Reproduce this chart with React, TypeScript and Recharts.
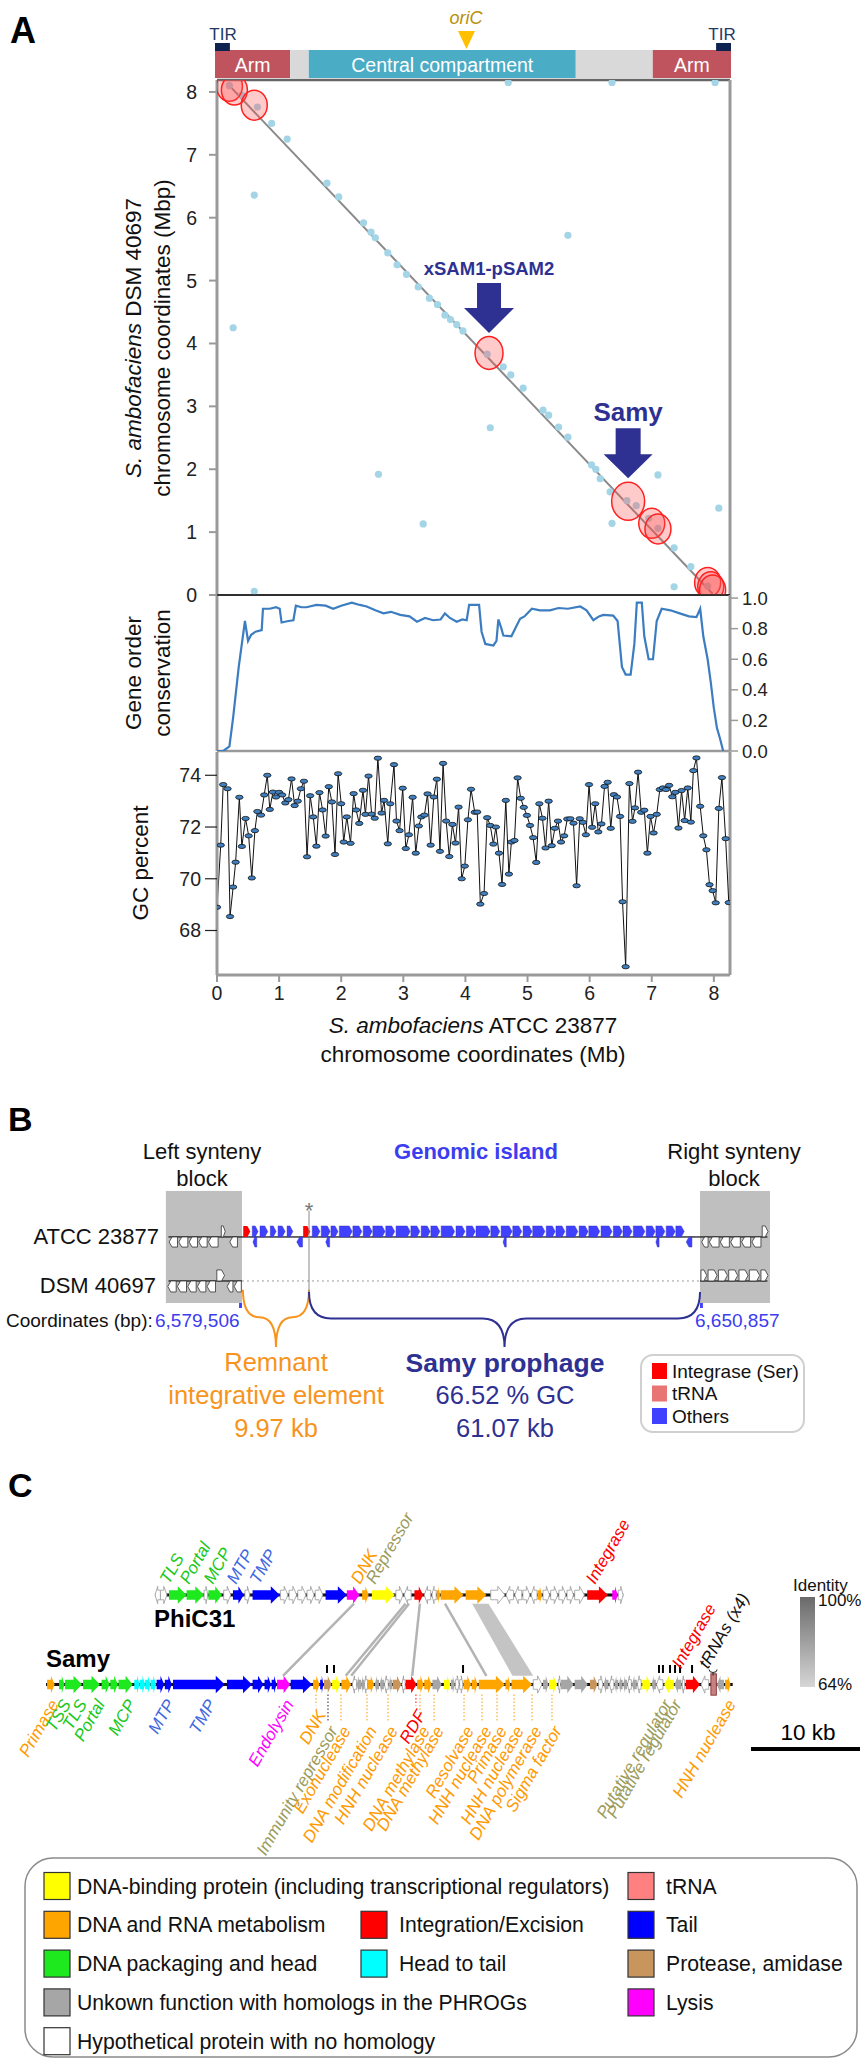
import React from 'react';
import {
  ComposedChart, ScatterChart, LineChart, Line, Scatter, XAxis, YAxis,
  ReferenceArea, ReferenceLine, ReferenceDot,
} from 'recharts';

const FONT = '"Liberation Sans", Arial, Helvetica, sans-serif';
const W = 861;

// ================= Panel A data =================
const mbTicks = [0, 1, 2, 3, 4, 5, 6, 7, 8];
const conservationTicks = [0, 0.2, 0.4, 0.6, 0.8, 1.0];
const gcTicks = [68, 70, 72, 74];

const compartments = [
  { kind: 'arm', start: -0.03, end: 1.18, label: 'Arm' },
  { kind: 'gap', start: 1.18, end: 1.48, label: '' },
  { kind: 'central', start: 1.48, end: 5.78, label: 'Central compartment' },
  { kind: 'gap', start: 5.78, end: 7.02, label: '' },
  { kind: 'arm', start: 7.02, end: 8.28, label: 'Arm' },
];
const tirRegions = [[-0.03, 0.21], [8.04, 8.28]];
const oriCPosition = 4.02;

const syntenyDiagonal = [{ x: 0.16, y: 8.14 }, { x: 7.98, y: 0.02 }];

const syntenyDots = [
  [0.2, 8.1], [0.4, 7.95], [0.65, 7.76], [0.88, 7.5], [1.13, 7.25], [1.77, 6.55], [1.96, 6.33],
  [2.36, 5.92], [2.48, 5.77], [2.55, 5.68], [2.75, 5.44], [2.9, 5.25], [3.05, 5.1],
  [3.24, 4.9], [3.42, 4.72], [3.55, 4.62], [3.67, 4.45], [3.76, 4.38], [3.86, 4.3],
  [3.96, 4.2], [4.35, 3.83], [4.61, 3.63], [4.73, 3.5], [4.93, 3.29], [5.25, 2.94], [5.34, 2.86],
  [5.5, 2.67], [5.65, 2.51], [6.03, 2.07], [6.1, 2.0], [6.17, 1.85], [6.33, 1.64],
  [6.6, 1.5], [6.75, 1.42], [6.95, 1.22], [7.1, 1.06], [7.36, 0.75], [7.63, 0.45], [7.9, 0.14],
];
const offDiagonalDots = [
  [0.6, 6.36], [0.26, 4.25], [5.65, 5.72], [4.4, 2.66], [4.69, 8.15], [6.36, 8.15],
  [8.02, 8.15], [2.6, 1.92], [3.32, 1.13], [0.6, 0.06], [7.1, 1.91], [8.08, 1.38],
  [7.36, 0.13], [6.36, 1.14],
];
const highlightedRegions = [
  { x: 0.2, y: 8.09, kind: 'minor' }, { x: 0.28, y: 8.03, kind: 'minor' },
  { x: 0.6, y: 7.79, kind: 'minor' }, { x: 4.38, y: 3.85, kind: 'mid' },
  { x: 6.62, y: 1.49, kind: 'major' }, { x: 7.0, y: 1.14, kind: 'minor' },
  { x: 7.1, y: 1.05, kind: 'minor' }, { x: 7.9, y: 0.2, kind: 'minor' },
  { x: 7.95, y: 0.13, kind: 'minor' }, { x: 7.98, y: 0.08, kind: 'minor' },
];
const annotations = [
  { x: 4.38, y: 3.85, label: 'xSAM1-pSAM2', kind: 'small' },
  { x: 6.62, y: 1.49, label: 'Samy', kind: 'large' },
];

const geneOrder: [number, number][] = [
  [0.0, 0.0], [0.1, 0.0], [0.2, 0.03], [0.26, 0.22], [0.35, 0.55], [0.45, 0.85], [0.5, 0.72],
  [0.55, 0.76], [0.62, 0.78], [0.72, 0.79], [0.74, 0.93], [0.85, 0.93], [0.95, 0.94],
  [1.01, 0.93], [1.04, 0.84], [1.15, 0.85], [1.23, 0.855], [1.27, 0.95], [1.36, 0.94],
  [1.44, 0.94], [1.6, 0.955], [1.75, 0.95], [1.87, 0.93], [2.0, 0.95], [2.17, 0.97],
  [2.3, 0.955], [2.41, 0.945], [2.55, 0.92], [2.68, 0.9], [2.8, 0.91], [2.95, 0.89],
  [3.1, 0.88], [3.22, 0.845], [3.35, 0.87], [3.48, 0.855], [3.6, 0.86], [3.67, 0.9],
  [3.75, 0.87], [3.86, 0.845], [3.95, 0.86], [4.02, 0.855], [4.06, 0.955], [4.22, 0.955],
  [4.26, 0.78], [4.32, 0.7], [4.45, 0.69], [4.5, 0.72], [4.53, 0.86], [4.58, 0.8],
  [4.61, 0.755], [4.74, 0.75], [4.8, 0.8], [4.88, 0.865], [4.95, 0.88], [5.07, 0.93],
  [5.2, 0.92], [5.36, 0.92], [5.5, 0.935], [5.65, 0.93], [5.85, 0.945], [5.95, 0.92],
  [6.06, 0.855], [6.15, 0.88], [6.22, 0.89], [6.38, 0.885], [6.45, 0.85], [6.52, 0.55],
  [6.58, 0.5], [6.66, 0.5], [6.72, 0.7], [6.76, 0.97], [6.84, 0.97], [6.88, 0.75],
  [6.95, 0.6], [7.02, 0.6], [7.08, 0.85], [7.16, 0.93], [7.3, 0.92], [7.45, 0.9],
  [7.6, 0.88], [7.72, 0.875], [7.78, 0.93], [7.83, 0.75], [7.9, 0.6], [7.95, 0.45],
  [8.0, 0.28], [8.05, 0.15], [8.1, 0.08], [8.15, 0.0],
];

const gcPercent: [number, number][] = [
  [0.0, 68.9], [0.06, 71.3], [0.1, 73.64], [0.17, 73.48], [0.21, 68.54], [0.26, 69.68],
  [0.3, 70.64], [0.36, 73.15], [0.4, 71.25], [0.46, 72.33], [0.51, 71.66], [0.56, 70.03],
  [0.61, 71.86], [0.65, 72.6], [0.71, 72.46], [0.76, 73.24], [0.81, 74.0], [0.85, 72.68],
  [0.9, 73.35], [0.95, 73.16], [1.0, 73.34], [1.05, 73.24], [1.1, 72.93], [1.15, 73.06],
  [1.2, 73.86], [1.25, 72.83], [1.3, 73.0], [1.35, 73.48], [1.4, 73.77], [1.45, 70.85],
  [1.5, 73.21], [1.55, 72.39], [1.6, 71.26], [1.65, 73.33], [1.7, 72.66], [1.75, 71.65],
  [1.8, 73.56], [1.85, 72.97], [1.9, 70.94], [1.95, 74.06], [2.0, 72.9], [2.04, 71.42],
  [2.09, 72.39], [2.15, 71.37], [2.2, 73.29], [2.24, 72.66], [2.29, 72.14], [2.35, 73.42],
  [2.39, 72.49], [2.44, 73.97], [2.49, 72.5], [2.54, 72.34], [2.59, 74.66], [2.65, 72.54],
  [2.69, 73.03], [2.75, 71.35], [2.79, 72.9], [2.85, 74.41], [2.89, 72.23], [2.94, 71.86],
  [2.99, 73.5], [3.04, 71.17], [3.09, 71.7], [3.15, 73.15], [3.2, 70.99], [3.25, 72.04],
  [3.29, 72.39], [3.34, 72.46], [3.39, 73.28], [3.44, 71.3], [3.49, 73.16], [3.54, 73.85],
  [3.59, 71.06], [3.64, 74.46], [3.69, 72.23], [3.74, 70.86], [3.79, 72.1], [3.84, 71.38],
  [3.89, 72.77], [3.94, 70.0], [3.99, 70.49], [4.04, 72.28], [4.09, 73.46], [4.15, 72.57],
  [4.19, 72.58], [4.24, 69.02], [4.3, 69.43], [4.35, 72.36], [4.4, 72.06], [4.45, 71.34],
  [4.49, 72.0], [4.54, 70.99], [4.59, 69.78], [4.65, 73.03], [4.7, 70.18], [4.74, 71.42],
  [4.79, 71.48], [4.84, 73.9], [4.89, 73.11], [4.94, 72.76], [4.99, 72.45], [5.04, 72.06],
  [5.09, 71.59], [5.14, 70.63], [5.19, 72.9], [5.24, 72.34], [5.29, 71.19], [5.34, 73.0],
  [5.39, 71.28], [5.44, 71.95], [5.49, 72.23], [5.54, 71.42], [5.59, 71.66], [5.64, 72.31],
  [5.69, 72.32], [5.74, 72.15], [5.79, 69.73], [5.84, 72.32], [5.89, 72.18], [5.94, 71.7],
  [5.99, 73.64], [6.04, 71.99], [6.09, 72.9], [6.14, 71.81], [6.19, 72.12], [6.24, 73.57],
  [6.29, 73.73], [6.34, 71.95], [6.39, 73.25], [6.44, 73.16], [6.49, 72.41], [6.53, 69.11],
  [6.58, 66.6], [6.64, 73.68], [6.69, 72.22], [6.73, 72.74], [6.78, 74.12], [6.83, 72.57],
  [6.88, 72.65], [6.93, 70.99], [6.98, 72.41], [7.03, 71.77], [7.08, 72.49], [7.13, 73.45],
  [7.18, 73.51], [7.23, 73.45], [7.28, 73.61], [7.33, 73.17], [7.38, 73.34], [7.43, 71.96],
  [7.48, 73.41], [7.53, 72.25], [7.58, 73.51], [7.63, 72.19], [7.67, 74.18], [7.72, 74.67],
  [7.78, 72.8], [7.83, 71.66], [7.88, 71.12], [7.93, 69.77], [7.98, 69.54], [8.03, 69.07],
  [8.08, 72.72], [8.13, 73.91], [8.19, 71.55], [8.24, 69.08],
];

// ================= Panel B data (kb from 6,579,506) =================
const leftSyntenyBlock = [-11.5, 0.3];
const rightSyntenyBlock = [71.35, 82.2];
const remnantElement = [0.45, 10.7];
const samyProphage = [10.7, 71.35];
const insertionMark = 10.7;
const atccGenes: [number, number, number, string][] = [
  [-11.0, -9.7, -1, 'hyp'], [-9.5, -8.1, -1, 'hyp'], [-7.9, -6.6, -1, 'hyp'], [-6.4, -5.1, -1, 'hyp'],
  [-4.9, -3.4, -1, 'hyp'], [-2.9, -2.3, 1, 'hyp'], [-1.6, -0.4, -1, 'hyp'],
  [0.5, 1.6, 1, 'int'], [1.9, 2.8, 1, 'oth'], [2.0, 2.6, -1, 'oth'], [3.1, 4.3, 1, 'oth'],
  [4.7, 5.6, 1, 'oth'], [5.9, 7.0, 1, 'oth'], [7.3, 8.2, 1, 'oth'], [8.8, 9.7, -1, 'oth'],
  [9.8, 10.9, 1, 'int'], [11.2, 12.4, 1, 'oth'], [12.6, 14.0, 1, 'oth'], [13.3, 13.9, -1, 'oth'],
  [14.1, 15.2, 1, 'oth'], [15.4, 17.4, 1, 'oth'], [17.5, 18.9, 1, 'oth'], [19.1, 20.5, 1, 'oth'],
  [20.6, 22.5, 1, 'oth'], [22.6, 24.0, 1, 'oth'], [24.2, 26.4, 1, 'oth'], [26.5, 27.9, 1, 'oth'],
  [28.1, 29.5, 1, 'oth'], [29.6, 31.0, 1, 'oth'], [31.2, 33.3, 1, 'oth'], [33.5, 34.9, 1, 'oth'],
  [35.1, 36.5, 1, 'oth'], [36.6, 38.8, 1, 'oth'], [38.9, 40.3, 1, 'oth'], [40.5, 42.2, 1, 'oth'],
  [40.8, 41.3, -1, 'oth'], [42.3, 43.7, 1, 'oth'], [43.9, 45.3, 1, 'oth'], [45.4, 47.3, 1, 'oth'],
  [47.5, 48.9, 1, 'oth'], [49.0, 50.4, 1, 'oth'], [50.6, 52.4, 1, 'oth'], [52.6, 54.0, 1, 'oth'],
  [54.1, 55.8, 1, 'oth'], [56.0, 57.7, 1, 'oth'], [57.9, 59.3, 1, 'oth'], [59.4, 60.8, 1, 'oth'],
  [61.0, 62.8, 1, 'oth'], [63.0, 64.4, 1, 'oth'], [64.5, 65.0, -1, 'oth'], [64.5, 65.9, 1, 'oth'],
  [66.1, 67.5, 1, 'oth'], [67.6, 68.9, 1, 'oth'], [69.2, 70.1, -1, 'oth'],
  [71.6, 72.6, -1, 'hyp'], [72.8, 74.3, -1, 'hyp'], [74.5, 75.9, -1, 'hyp'], [76.1, 77.6, -1, 'hyp'],
  [77.8, 79.2, -1, 'hyp'], [79.4, 80.8, -1, 'hyp'], [81.0, 81.9, 1, 'hyp'],
];
const dsmGenes: [number, number, number, string][] = [
  [-11.2, -9.9, -1, 'hyp'], [-9.7, -8.3, -1, 'hyp'], [-8.1, -6.8, -1, 'hyp'], [-6.6, -5.3, -1, 'hyp'],
  [-5.1, -3.8, -1, 'hyp'], [-3.6, -2.4, 1, 'hyp'], [-2.0, -1.1, -1, 'hyp'], [-0.9, 0.2, -1, 'hyp'],
  [71.5, 72.4, 1, 'hyp'], [72.6, 74.0, 1, 'hyp'], [74.2, 75.6, 1, 'hyp'], [75.8, 77.2, 1, 'hyp'],
  [77.4, 78.8, 1, 'hyp'], [79.0, 80.6, 1, 'hyp'], [80.8, 81.9, 1, 'hyp'],
];

// ================= Panel C data (kb) =================
const samyTrack = [0, 63.0];
const phiTrack = [10.0, 52.95];
const samyGenes: [number, number, number, string][] = [
  [0.1, 0.8, 1, 'meta'], [1.2, 1.7, 1, 'pack'], [1.75, 3.3, 1, 'pack'], [3.4, 4.95, 1, 'pack'],
  [5.1, 5.85, 1, 'pack'], [5.9, 6.6, 1, 'pack'], [6.65, 7.95, 1, 'pack'],
  [8.1, 8.6, 1, 'h2t'], [8.6, 9.1, 1, 'h2t'], [9.1, 9.6, 1, 'h2t'], [9.6, 10.1, 1, 'h2t'],
  [10.15, 10.85, 1, 'tail'], [10.9, 11.55, 1, 'tail'], [11.65, 16.4, 1, 'tail'],
  [16.6, 18.9, 1, 'tail'], [18.95, 19.95, 1, 'tail'], [20.05, 20.65, 1, 'tail'], [20.7, 21.15, 1, 'tail'],
  [21.2, 22.4, 1, 'lysis'], [22.45, 24.4, 1, 'tail'], [24.5, 25.1, 1, 'meta'], [25.15, 25.45, 1, 'tail'],
  [25.5, 26.2, 1, 'prot'], [26.25, 27.0, 1, 'bind'], [27.1, 28.0, 1, 'meta'],
  [28.1, 28.5, -1, 'hyp'], [28.5, 28.9, -1, 'unk'], [28.9, 29.2, -1, 'unk'], [29.2, 29.5, -1, 'hyp'],
  [29.5, 30.1, 1, 'meta'], [30.15, 30.55, -1, 'unk'], [30.6, 31.0, -1, 'unk'], [31.05, 31.4, -1, 'hyp'],
  [31.45, 31.75, -1, 'unk'], [31.8, 32.6, 1, 'prot'], [32.65, 32.95, -1, 'hyp'], [33.0, 34.0, 1, 'int'],
  [34.05, 34.65, 1, 'meta'], [34.7, 35.4, 1, 'meta'], [35.45, 36.3, 1, 'unk'], [36.5, 37.1, 1, 'bind'],
  [37.15, 37.5, 1, 'unk'], [37.55, 37.9, 1, 'hyp'], [37.95, 38.25, 1, 'hyp'], [38.3, 39.0, 1, 'meta'],
  [39.05, 39.6, 1, 'meta'], [39.7, 42.1, 1, 'meta'], [42.15, 42.6, 1, 'meta'], [42.7, 44.6, 1, 'meta'],
  [44.7, 45.5, 1, 'hyp'], [45.6, 46.1, 1, 'unk'], [46.15, 46.9, 1, 'bind'], [47.0, 47.2, 1, 'hyp'],
  [47.25, 48.4, 1, 'unk'], [48.5, 49.7, 1, 'unk'], [49.9, 50.6, 1, 'prot'], [50.7, 51.1, 1, 'hyp'],
  [51.15, 51.6, -1, 'unk'], [51.7, 52.1, -1, 'hyp'], [52.15, 52.5, -1, 'unk'], [52.55, 52.9, -1, 'unk'],
  [52.95, 53.3, -1, 'unk'], [53.35, 53.7, -1, 'hyp'], [53.75, 54.2, -1, 'unk'], [54.25, 54.6, -1, 'hyp'],
  [54.7, 55.5, 1, 'bind'], [55.55, 55.95, -1, 'unk'], [56.0, 56.6, -1, 'hyp'], [56.7, 57.6, -1, 'bind'],
  [57.65, 58.3, -1, 'unk'], [58.35, 58.6, -1, 'hyp'], [58.7, 60.0, 1, 'int'], [60.1, 60.8, -1, 'hyp'],
  [61.0, 61.5, 0, 'trna'], [61.55, 62.2, -1, 'unk'], [62.3, 62.8, 1, 'meta'],
];
const phiGenes: [number, number, number, string][] = [
  [10.0, 10.5, -1, 'hyp'], [10.5, 11.1, 1, 'hyp'], [11.28, 12.9, 1, 'pack'], [12.9, 14.5, 1, 'pack'],
  [14.5, 14.85, 1, 'hyp'], [14.9, 16.15, 1, 'pack'], [16.3, 16.95, 1, 'hyp'], [17.15, 18.15, 1, 'tail'],
  [18.25, 18.7, 1, 'hyp'], [18.95, 21.45, 1, 'tail'], [21.5, 22.2, 1, 'hyp'], [22.3, 23.0, 1, 'hyp'],
  [23.1, 23.85, 1, 'hyp'], [23.95, 24.6, 1, 'hyp'], [24.7, 25.4, 1, 'hyp'], [25.65, 27.6, 1, 'tail'],
  [27.6, 28.75, 1, 'lysis'], [29.0, 29.6, 1, 'meta'], [29.9, 32.0, 1, 'bind'], [32.1, 32.75, 1, 'hyp'],
  [32.85, 33.5, -1, 'hyp'], [33.8, 34.6, 1, 'int'], [34.7, 35.3, -1, 'hyp'], [35.4, 35.8, -1, 'hyp'],
  [35.85, 36.15, 1, 'meta'], [36.2, 38.3, 1, 'meta'], [38.5, 40.4, 1, 'meta'], [40.8, 42.1, 1, 'hyp'],
  [42.2, 42.9, -1, 'hyp'], [43.0, 43.65, -1, 'hyp'], [43.75, 44.4, 1, 'hyp'], [44.5, 45.05, -1, 'hyp'],
  [45.1, 45.5, 1, 'meta'], [45.6, 46.2, 1, 'hyp'], [46.3, 46.95, 1, 'hyp'], [47.05, 47.7, 1, 'hyp'],
  [47.8, 48.4, 1, 'hyp'], [48.5, 49.4, 1, 'hyp'], [49.65, 51.55, 1, 'int'], [51.95, 52.45, 1, 'lysis'],
  [52.5, 52.95, 1, 'hyp'],
];
const phiLabels = [
  { x: 11.28, label: 'TLS', cat: 'pack' }, { x: 13.12, label: 'Portal', cat: 'pack' },
  { x: 15.32, label: 'MCP', cat: 'pack' }, { x: 17.43, label: 'MTP', cat: 'tail' },
  { x: 19.54, label: 'TMP', cat: 'tail' }, { x: 28.81, label: 'DNK', cat: 'meta' },
  { x: 30.18, label: 'Repressor', cat: 'bind' }, { x: 50.37, label: 'Integrase', cat: 'int' },
];
const samyLabelsAbove = [
  { x: 58.26, label: 'Integrase', cat: 'int' }, { x: 60.73, label: 'tRNAs (x4)', cat: 'trna' },
];
const samyLabelsBelow = [
  { x: 0.28, label: 'Primase', cat: 'meta', tier: 0 }, { x: 1.38, label: 'TSS', cat: 'pack', tier: 0 },
  { x: 2.84, label: 'TLS', cat: 'pack', tier: 0 }, { x: 4.5, label: 'Portal', cat: 'pack', tier: 0 },
  { x: 7.34, label: 'MCP', cat: 'pack', tier: 0 }, { x: 10.92, label: 'MTP', cat: 'tail', tier: 0 },
  { x: 14.68, label: 'TMP', cat: 'tail', tier: 0 }, { x: 21.83, label: 'Endolysin', cat: 'lysis', tier: 0 },
  { x: 24.77, label: 'DNK', cat: 'meta', tier: 1 },
  { x: 25.87, label: 'Immunity repressor', cat: 'bind', tier: 2 },
  { x: 27.06, label: 'Exonuclease', cat: 'meta', tier: 2 },
  { x: 29.45, label: 'DNA modification', cat: 'meta', tier: 2 },
  { x: 31.38, label: 'HNH nuclease', cat: 'meta', tier: 2 },
  { x: 34.31, label: 'DNA methylase', cat: 'meta', tier: 2 },
  { x: 33.94, label: 'RDF', cat: 'int', tier: 1 },
  { x: 35.6, label: 'DNA methylase', cat: 'meta', tier: 2 },
  { x: 38.35, label: 'Resolvase', cat: 'meta', tier: 2 },
  { x: 40.0, label: 'HNH nuclease', cat: 'meta', tier: 2 },
  { x: 41.38, label: 'Primase', cat: 'meta', tier: 2 },
  { x: 42.94, label: 'HNH nuclease', cat: 'meta', tier: 2 },
  { x: 44.59, label: 'DNA polymerase', cat: 'meta', tier: 2 },
  { x: 46.42, label: 'Sigma factor', cat: 'meta', tier: 2 },
  { x: 56.51, label: 'Putative regulator', cat: 'bind', tier: 0 },
  { x: 57.43, label: 'Putative regulator', cat: 'bind', tier: 0 },
  { x: 62.39, label: 'HNH nuclease', cat: 'meta', tier: 0 },
];
const samyFeatureMarks = [25.78, 26.42, 38.26, 56.24, 56.6, 57.25, 57.71, 58.17, 59.27];
const tRNACluster = 61.2;
const homologyLinks: [number, number][] = [[28.26, 21.74], [33.0, 27.5], [33.3, 28.0], [34.3, 33.6], [36.6, 40.4]];
const homologyBand = { phi: [39.1, 40.6], samy: [42.8, 44.7] };
const scaleBarKb = [64.68, 74.68];

const legendCol1 = ['bind', 'meta', 'pack', 'unk', 'hyp'];
const legendCol2 = [null, 'int', 'h2t', null, null];
const legendCol3 = ['trna', 'tail', 'prot', 'lysis', null];
const legendNames: Record<string, string> = {
  bind: 'DNA-binding protein (including transcriptional regulators)',
  meta: 'DNA and RNA metabolism', pack: 'DNA packaging and head',
  unk: 'Unkown function with homologs in the PHROGs', hyp: 'Hypothetical protein with no homology',
  int: 'Integration/Excision', h2t: 'Head to tail', trna: 'tRNA', tail: 'Tail',
  prot: 'Protease, amidase', lysis: 'Lysis',
};
const legendB = [
  { cat: 'int', label: 'Integrase (Ser)' }, { cat: 'trnaB', label: 'tRNA' }, { cat: 'oth', label: 'Others' },
];

// ================= Styles =================
const compColor: Record<string, string> = { arm: '#c0545e', gap: '#d9d9d9', central: '#4bacc6' };
const geneFill: Record<string, string> = {
  bind: '#ffff00', meta: '#ffa500', pack: '#1ee81e', unk: '#a6a6a6', hyp: '#ffffff',
  int: '#ff0000', h2t: '#00ffff', tail: '#0000ff', prot: '#c8955c', lysis: '#ff00ff',
  trna: '#ff8080', oth: '#4040ff', trnaB: '#e87474',
};
const labelColor: Record<string, string> = {
  bind: '#9b9b5b', meta: '#ff9900', pack: '#19c819', tail: '#3d66e0', lysis: '#ff00ff',
  int: '#ff0000', trna: '#111111',
};
const NAVY = '#2e3192';
const ORANGE = '#f7941d';
const ISLAND_BLUE = '#3c3cf0';
const AXIS_GREY = '#9a9a9a';

const X_DOMAIN: [number, number] = [0, 8.26];
const DOT_Y: [number, number] = [0, 8.19];

// ================= Shapes =================
function arrowPath(x: number, y: number, w: number, h: number, strand: number, bodyFrac: number, headMax: number) {
  const head = Math.min(headMax, w * 0.5);
  const b0 = y + (h * (1 - bodyFrac)) / 2;
  const b1 = y + h - (h * (1 - bodyFrac)) / 2;
  const my = y + h / 2;
  let pts: number[][];
  if (strand > 0) {
    pts = [[x, b0], [x + w - head, b0], [x + w - head, y], [x + w, my], [x + w - head, y + h], [x + w - head, b1], [x, b1]];
  } else if (strand < 0) {
    pts = [[x + w, b0], [x + head, b0], [x + head, y], [x, my], [x + head, y + h], [x + head, b1], [x + w, b1]];
  } else {
    pts = [[x, y], [x + w, y], [x + w, y + h], [x, y + h]];
  }
  return pts.map((p) => p.join(',')).join(' ');
}

const geneShapeC = (strand: number, cat: string) => (p: any) => {
  const { x, y, width, height } = p;
  if (cat === 'trna') {
    return <rect x={x} y={y - 2} width={width} height={height + 4} fill="#c98080" stroke="#8b4040" strokeWidth={1} />;
  }
  const white = cat === 'hyp';
  return (
    <polygon points={arrowPath(x, y, width, height, strand, 0.55, 9)} fill={geneFill[cat]}
      stroke={white ? '#9a9a9a' : 'none'} strokeWidth={0.8} />
  );
};

const geneShapeB = (strand: number, cat: string) => (p: any) => {
  const { x, y, width, height } = p;
  const white = cat === 'hyp';
  return (
    <polygon points={arrowPath(x, y, width, height, strand, 1, 3)} fill={geneFill[cat]}
      stroke={white ? '#333' : (cat === 'oth' ? '#2a2ab0' : 'none')} strokeWidth={white ? 0.8 : 0.4} />
  );
};

const braceShape = (color: string) => (p: any) => {
  const { x, y, width: w, height: h } = p;
  const ym = y + h * 0.48;
  const mid = x + w / 2;
  const r = Math.min(22, w / 4);
  const d = `M ${x} ${y} Q ${x} ${ym} ${x + r} ${ym} L ${mid - r} ${ym} Q ${mid} ${ym} ${mid} ${y + h} Q ${mid} ${ym} ${mid + r} ${ym} L ${x + w - r} ${ym} Q ${x + w} ${ym} ${x + w} ${y}`;
  return <path d={d} fill="none" stroke={color} strokeWidth={2} />;
};

const plainRect = (fill: string) => (p: any) => <rect x={p.x} y={p.y} width={p.width} height={p.height} fill={fill} />;

const ellipseSize: Record<string, [number, number]> = { minor: [13, 15], mid: [14, 16.5], major: [16.5, 19] };

const arrowSpec: Record<string, any> = {
  small: { tip: 20, headH: 25, headHW: 25, shaftH: 25, shaftHW: 12, font: 18.5, base: 78 },
  large: { tip: 23, headH: 24, headHW: 24.5, shaftH: 26, shaftHW: 12.5, font: 26, base: 80 },
};

const AnnotationShape = (p: any) => {
  const { cx, cy, payload } = p;
  const s = arrowSpec[payload.kind];
  const tip = cy - s.tip;
  const hTop = tip - s.headH;
  const sTop = hTop - s.shaftH;
  const pts = [
    [cx - s.shaftHW, sTop], [cx + s.shaftHW, sTop], [cx + s.shaftHW, hTop], [cx + s.headHW, hTop],
    [cx, tip], [cx - s.headHW, hTop], [cx - s.shaftHW, hTop],
  ].map((q) => q.join(',')).join(' ');
  return (
    <g>
      <polygon points={pts} fill={NAVY} />
      <text x={cx} y={cy - s.base} textAnchor="middle" fontFamily={FONT} fontWeight="bold" fontSize={s.font} fill={NAVY}>
        {payload.label}
      </text>
    </g>
  );
};

const tierOffset = [13.5, 24, 40];

// ================= Charts =================
const CompartmentBar = () => (
  <div style={{ position: 'absolute', left: 0, top: 0 }}>
    <ComposedChart width={W} height={80} margin={{ top: 40, right: 130, bottom: 2, left: 215 }}>
      <XAxis type="number" dataKey="x" domain={[-0.03, 8.28]} hide allowDataOverflow />
      <YAxis type="number" dataKey="y" domain={[0, 1.357]} hide allowDataOverflow />
      {compartments.map((c, i) => (
        <ReferenceArea key={'c' + i} x1={c.start} x2={c.end} y1={0} y2={1} ifOverflow="visible"
          shape={(p: any) => (
            <g>
              <rect x={p.x} y={p.y} width={p.width} height={p.height} fill={compColor[c.kind]} />
              {c.label ? (
                <text x={p.x + p.width / 2} y={p.y + p.height / 2 + 1} textAnchor="middle" dominantBaseline="central"
                  fontFamily={FONT} fontSize={19.5} fill="#ffffff">{c.label}</text>
              ) : null}
            </g>
          )} />
      ))}
      {tirRegions.map((t, i) => (
        <ReferenceArea key={'t' + i} x1={t[0]} x2={t[1]} y1={0.964} y2={1.25} ifOverflow="visible"
          shape={plainRect('#0f2350')} />
      ))}
      <ReferenceDot x={oriCPosition} y={1} ifOverflow="visible"
        shape={(p: any) => (
          <g>
            <polygon points={`${p.cx - 8.5},${p.cy - 19} ${p.cx + 8.5},${p.cy - 19} ${p.cx},${p.cy - 1}`} fill="#ffc000" />
          </g>
        )} />
    </ComposedChart>
  </div>
);

const DotPlot = () => (
  <div style={{ position: 'absolute', left: 0, top: 0 }}>
    <ScatterChart width={W} height={620} margin={{ top: 80, right: 131, bottom: 25, left: 157 }}>
      <XAxis type="number" dataKey="x" domain={X_DOMAIN} hide allowDataOverflow />
      <YAxis type="number" dataKey="y" domain={DOT_Y} ticks={mbTicks} allowDataOverflow width={60}
        axisLine={{ stroke: AXIS_GREY, strokeWidth: 3 }} tickLine={{ stroke: AXIS_GREY, strokeWidth: 2 }}
        tickSize={8} tickMargin={12} tick={{ fontSize: 19.5, fill: '#222', fontFamily: FONT }} />
      <ReferenceLine y={DOT_Y[1]} stroke="#666" strokeWidth={2.5} />
      <ReferenceLine x={X_DOMAIN[1]} stroke={AXIS_GREY} strokeWidth={3} />
      <ReferenceLine y={0} stroke="#222" strokeWidth={1.5} />
      <Scatter data={offDiagonalDots.map(([x, y]) => ({ x, y }))} isAnimationActive={false}
        shape={(p: any) => <circle cx={p.cx} cy={p.cy} r={3.6} fill="#a3d5e6" />} />
      <Scatter data={syntenyDots.map(([x, y]) => ({ x, y }))} isAnimationActive={false}
        shape={(p: any) => <circle cx={p.cx} cy={p.cy} r={3.6} fill="#a3d5e6" />} />
      <ReferenceLine segment={syntenyDiagonal} stroke="#8a8a8a" strokeWidth={2} />
      <Scatter data={highlightedRegions} isAnimationActive={false}
        shape={(p: any) => {
          const [rx, ry] = ellipseSize[p.payload.kind];
          return <ellipse cx={p.cx} cy={p.cy} rx={rx} ry={ry} fill="rgba(255,80,80,0.3)" stroke="#ff2020" strokeWidth={1.5} />;
        }} />
      <Scatter data={annotations} isAnimationActive={false} shape={AnnotationShape} />
    </ScatterChart>
  </div>
);

const GeneOrderChart = () => (
  <div style={{ position: 'absolute', left: 0, top: 580 }}>
    <LineChart width={W} height={190} data={geneOrder.map(([mb, v]) => ({ mb, v }))}
      margin={{ top: 15, right: 71, bottom: 19, left: 217 }}>
      <XAxis type="number" dataKey="mb" domain={X_DOMAIN} hide allowDataOverflow />
      <YAxis orientation="right" type="number" domain={[0, 1.02]} ticks={conservationTicks} allowDataOverflow width={60}
        axisLine={{ stroke: AXIS_GREY, strokeWidth: 3 }} tickLine={{ stroke: AXIS_GREY, strokeWidth: 1.5 }}
        tickSize={8} tickMargin={4} tickFormatter={(v: number) => v.toFixed(1)}
        tick={{ fontSize: 18.5, fill: '#222', fontFamily: FONT }} />
      <ReferenceLine x={0} stroke={AXIS_GREY} strokeWidth={3} />
      <ReferenceLine y={1.02} stroke="#222" strokeWidth={1.5} />
      <ReferenceLine y={0} stroke={AXIS_GREY} strokeWidth={2.5} />
      <Line type="linear" dataKey="v" stroke="#3b7dc0" strokeWidth={2.2} dot={false} isAnimationActive={false} />
    </LineChart>
  </div>
);

const GcChart = () => (
  <div style={{ position: 'absolute', left: 0, top: 740 }}>
    <LineChart width={W} height={320} data={gcPercent.map(([mb, gc]) => ({ mb, gc }))}
      margin={{ top: 12, right: 131, bottom: 40, left: 157 }}>
      <XAxis type="number" dataKey="mb" domain={X_DOMAIN} ticks={mbTicks} allowDataOverflow height={45}
        axisLine={{ stroke: AXIS_GREY, strokeWidth: 3 }} tickLine={{ stroke: AXIS_GREY, strokeWidth: 2 }}
        tickSize={7} tickMargin={4} tick={{ fontSize: 19.5, fill: '#222', fontFamily: FONT }} />
      <YAxis type="number" domain={[66.28, 74.9]} ticks={gcTicks} allowDataOverflow width={60}
        axisLine={{ stroke: AXIS_GREY, strokeWidth: 3 }} tickLine={{ stroke: '#222', strokeWidth: 1.2 }}
        tickSize={12} tickMargin={4} tick={{ fontSize: 19.5, fill: '#222', fontFamily: FONT }} />
      <ReferenceLine x={X_DOMAIN[1]} stroke={AXIS_GREY} strokeWidth={3} />
      <Line type="linear" dataKey="gc" stroke="#111" strokeWidth={1} isAnimationActive={false}
        dot={(p: any) => (
          <ellipse key={'gc' + p.index} cx={p.cx} cy={p.cy} rx={3.7} ry={2.1} fill="#4080c0" stroke="#111" strokeWidth={0.8} />
        )} />
    </LineChart>
  </div>
);

// Panel B: ATCC level 1, DSM level 0
const PanelBChart = () => (
  <div style={{ position: 'absolute', left: 0, top: 1185 }}>
    <ComposedChart width={W} height={175} margin={{ top: 0, right: 0, bottom: 0, left: 0 }}>
      <XAxis type="number" dataKey="x" domain={[-37.23, 96.32]} hide allowDataOverflow />
      <YAxis type="number" dataKey="y" domain={[-1.795, 2.18]} hide allowDataOverflow />
      <ReferenceArea x1={leftSyntenyBlock[0]} x2={leftSyntenyBlock[1]} y1={-0.5} y2={2.045} shape={plainRect('#bfbfbf')} />
      <ReferenceArea x1={rightSyntenyBlock[0]} x2={rightSyntenyBlock[1]} y1={-0.5} y2={2.045} shape={plainRect('#bfbfbf')} />
      <ReferenceArea x1={leftSyntenyBlock[0] + 0.4} x2={rightSyntenyBlock[1] - 0.4} y1={0.985} y2={1.015} shape={plainRect('#222')} />
      <ReferenceArea x1={leftSyntenyBlock[0] + 0.4} x2={leftSyntenyBlock[1]} y1={-0.015} y2={0.015} shape={plainRect('#222')} />
      <ReferenceArea x1={rightSyntenyBlock[0]} x2={rightSyntenyBlock[1] - 0.4} y1={-0.015} y2={0.015} shape={plainRect('#222')} />
      <ReferenceArea x1={leftSyntenyBlock[1] - 0.45} x2={leftSyntenyBlock[1]} y1={-0.614} y2={-0.5} shape={plainRect('#4040ff')} />
      <ReferenceArea x1={rightSyntenyBlock[0]} x2={rightSyntenyBlock[0] + 0.45} y1={-0.614} y2={-0.5} shape={plainRect('#4040ff')} />
      {atccGenes.map((g, i) => (
        <ReferenceArea key={'a' + i} x1={g[0]} x2={g[1]} y1={g[2] > 0 ? 1 : 0.77} y2={g[2] > 0 ? 1.25 : 1}
          shape={geneShapeB(g[2], g[3])} />
      ))}
      {dsmGenes.map((g, i) => (
        <ReferenceArea key={'d' + i} x1={g[0]} x2={g[1]} y1={g[2] > 0 ? 0 : -0.25} y2={g[2] > 0 ? 0.25 : 0}
          shape={geneShapeB(g[2], g[3])} />
      ))}
      <ReferenceLine segment={[{ x: leftSyntenyBlock[1], y: 0 }, { x: rightSyntenyBlock[0], y: 0 }]}
        stroke="#9a9a9a" strokeWidth={1} strokeDasharray="2 3" />
      <ReferenceLine segment={[{ x: insertionMark, y: 1.6 }, { x: insertionMark, y: -0.25 }]} stroke="#8a8a8a" strokeWidth={1} />
      <ReferenceArea x1={remnantElement[0]} x2={remnantElement[1]} y1={-1.5} y2={-0.2} shape={braceShape(ORANGE)} />
      <ReferenceArea x1={samyProphage[0]} x2={samyProphage[1]} y1={-1.5} y2={-0.25} shape={braceShape(NAVY)} />
    </ComposedChart>
  </div>
);

// Panel C: Samy level 0, PhiC31 level 1
const GH = 0.097;
const PanelCChart = () => (
  <div style={{ position: 'absolute', left: 0, top: 1455 }}>
    <ComposedChart width={W} height={405} margin={{ top: 0, right: 0, bottom: 0, left: 0 }}>
      <XAxis type="number" dataKey="x" domain={[-4.22, 74.77]} hide allowDataOverflow />
      <YAxis type="number" dataKey="y" domain={[-1.961, 2.564]} hide allowDataOverflow />
      <ReferenceArea x1={homologyBand.phi[0]} x2={homologyBand.samy[1]} y1={GH} y2={1 - GH}
        shape={(p: any) => {
          const k = p.width / (homologyBand.samy[1] - homologyBand.phi[0]);
          const px = (v: number) => p.x + (v - homologyBand.phi[0]) * k;
          const pts = [[px(homologyBand.phi[0]), p.y], [px(homologyBand.phi[1]), p.y],
            [px(homologyBand.samy[1]), p.y + p.height], [px(homologyBand.samy[0]), p.y + p.height]];
          return <polygon points={pts.map((q) => q.join(',')).join(' ')} fill="#c4c4c4" />;
        }} />
      <ReferenceArea x1={samyTrack[0]} x2={samyTrack[1]} y1={-0.017} y2={0.017} shape={plainRect('#111')} />
      <ReferenceArea x1={phiTrack[0]} x2={phiTrack[1]} y1={1 - 0.017} y2={1 + 0.017} shape={plainRect('#111')} />
      {samyGenes.map((g, i) => (
        <ReferenceArea key={'s' + i} x1={g[0]} x2={g[1]} y1={-GH} y2={GH} shape={geneShapeC(g[2], g[3])} />
      ))}
      {phiGenes.map((g, i) => (
        <ReferenceArea key={'p' + i} x1={g[0]} x2={g[1]} y1={1 - GH} y2={1 + GH} shape={geneShapeC(g[2], g[3])} />
      ))}
      {homologyLinks.map((l, i) => (
        <ReferenceLine key={'h' + i} segment={[{ x: l[0], y: 1 - GH }, { x: l[1], y: GH }]} stroke="#b3b3b3" strokeWidth={2.5} />
      ))}
      <ReferenceLine segment={[{ x: scaleBarKb[0], y: -0.72 }, { x: scaleBarKb[1], y: -0.72 }]} stroke="#000" strokeWidth={4} />
      <Scatter data={samyFeatureMarks.map((x) => ({ x, y: 0 }))} isAnimationActive={false}
        shape={(p: any) => <line x1={p.cx} x2={p.cx} y1={p.cy - 19.5} y2={p.cy - 11.5} stroke="#000" strokeWidth={2} />} />
      <Scatter data={[{ x: tRNACluster, y: 0 }]} isAnimationActive={false}
        shape={(p: any) => (
          <path d={`M ${p.cx - 4} ${p.cy - 15} Q ${p.cx - 4} ${p.cy - 12} ${p.cx} ${p.cy - 12} Q ${p.cx + 4} ${p.cy - 12} ${p.cx + 4} ${p.cy - 15} M ${p.cx} ${p.cy - 12} L ${p.cx} ${p.cy - 9}`}
            fill="none" stroke="#222" strokeWidth={1} />
        )} />
      <Scatter data={phiLabels.map((l) => ({ ...l, y: 1 }))} isAnimationActive={false}
        shape={(p: any) => {
          const y0 = p.cy - 10;
          return (
            <text x={p.cx} y={y0} transform={`rotate(-60 ${p.cx} ${y0})`} fontFamily={FONT} fontStyle="italic"
              fontSize={17} fill={labelColor[p.payload.cat]}>{p.payload.label}</text>
          );
        }} />
      <Scatter data={samyLabelsAbove.map((l) => ({ ...l, y: 0 }))} isAnimationActive={false}
        shape={(p: any) => {
          const y0 = p.cy - 15;
          return (
            <text x={p.cx} y={y0} transform={`rotate(-60 ${p.cx} ${y0})`} fontFamily={FONT} fontStyle="italic"
              fontSize={17} fill={labelColor[p.payload.cat]}>{p.payload.label}</text>
          );
        }} />
      <Scatter data={samyLabelsBelow.map((l) => ({ ...l, y: 0 }))} isAnimationActive={false}
        shape={(p: any) => {
          const off = tierOffset[p.payload.tier];
          const y0 = p.cy + off;
          const col = labelColor[p.payload.cat];
          return (
            <g>
              {p.payload.tier > 0 ? (
                <line x1={p.cx} x2={p.cx} y1={p.cy + 10} y2={y0 - 3} stroke={p.payload.cat === 'bind' ? '#222' : col}
                  strokeWidth={1} strokeDasharray="1.5 2" />
              ) : null}
              <text x={p.cx} y={y0} transform={`rotate(-60 ${p.cx} ${y0})`} textAnchor="end" dominantBaseline="hanging"
                fontFamily={FONT} fontStyle="italic" fontSize={17} fill={col}>{p.payload.label}</text>
            </g>
          );
        }} />
    </ComposedChart>
  </div>
);

// ================= Static text overlay =================
const T = (props: any) => <text fontFamily={FONT} fill="#111" {...props} />;

const Overlay = () => {
  const rowY = (i: number) => 1886 + i * 38.8;
  const legendCols: [(string | null)[], number, number][] = [[legendCol1, 44, 77], [legendCol2, 361, 399], [legendCol3, 628, 666]];
  return (
    <svg width={W} height={2058} style={{ position: 'absolute', left: 0, top: 0, pointerEvents: 'none' }}>
      <defs>
        <linearGradient id="idgrad" x1="0" y1="0" x2="0" y2="1">
          <stop offset="0" stopColor="#6a6a6a" />
          <stop offset="1" stopColor="#d6d6d6" />
        </linearGradient>
      </defs>
      {/* Panel A */}
      <T x={10} y={43} fontSize={36} fontWeight="bold" fill="#000">A</T>
      <T x={223} y={40} fontSize={17} textAnchor="middle" fill="#1f3864">TIR</T>
      <T x={722} y={40} fontSize={17} textAnchor="middle" fill="#1f3864">TIR</T>
      <T x={466} y={24} fontSize={18} textAnchor="middle" fontStyle="italic" fill="#b8900a">oriC</T>
      <T transform="translate(133,338) rotate(-90)" fontSize={22.5} textAnchor="middle" dominantBaseline="central">
        <tspan fontStyle="italic">S. ambofaciens</tspan>{' DSM 40697'}
      </T>
      <T transform="translate(162,338) rotate(-90)" fontSize={22.5} textAnchor="middle" dominantBaseline="central">
        chromosome coordinates (Mbp)
      </T>
      <T transform="translate(133,673) rotate(-90)" fontSize={22.5} textAnchor="middle" dominantBaseline="central">Gene order</T>
      <T transform="translate(162,673) rotate(-90)" fontSize={22.5} textAnchor="middle" dominantBaseline="central">conservation</T>
      <T transform="translate(140,863) rotate(-90)" fontSize={22.5} textAnchor="middle" dominantBaseline="central">GC percent</T>
      <T x={473} y={1025} fontSize={22.5} textAnchor="middle" dominantBaseline="central">
        <tspan fontStyle="italic">S. ambofaciens</tspan>{' ATCC 23877'}
      </T>
      <T x={473} y={1054} fontSize={22.5} textAnchor="middle" dominantBaseline="central">chromosome coordinates (Mb)</T>

      {/* Panel B */}
      <T x={8} y={1131} fontSize={34} fontWeight="bold" fill="#000">B</T>
      <T x={202} y={1151} fontSize={22} textAnchor="middle" dominantBaseline="central">Left synteny</T>
      <T x={202} y={1178} fontSize={22} textAnchor="middle" dominantBaseline="central">block</T>
      <T x={476} y={1151} fontSize={22} fontWeight="bold" textAnchor="middle" dominantBaseline="central" fill={ISLAND_BLUE}>Genomic island</T>
      <T x={734} y={1151} fontSize={22} textAnchor="middle" dominantBaseline="central">Right synteny</T>
      <T x={734} y={1178} fontSize={22} textAnchor="middle" dominantBaseline="central">block</T>
      <T x={159} y={1236} fontSize={22} textAnchor="end" dominantBaseline="central">ATCC 23877</T>
      <T x={156} y={1285} fontSize={22} textAnchor="end" dominantBaseline="central">DSM 40697</T>
      <T x={309} y={1218} fontSize={22} textAnchor="middle" fill="#777">*</T>
      <T x={6} y={1320} fontSize={19} dominantBaseline="central">Coordinates (bp):</T>
      <T x={155} y={1320} fontSize={19} dominantBaseline="central" fill={ISLAND_BLUE}>6,579,506</T>
      <T x={695} y={1320} fontSize={19} dominantBaseline="central" fill={ISLAND_BLUE}>6,650,857</T>
      <T x={276} y={1362} fontSize={25.5} textAnchor="middle" dominantBaseline="central" fill={ORANGE}>Remnant</T>
      <T x={276} y={1395} fontSize={25.5} textAnchor="middle" dominantBaseline="central" fill={ORANGE}>integrative element</T>
      <T x={276} y={1428} fontSize={25.5} textAnchor="middle" dominantBaseline="central" fill={ORANGE}>9.97 kb</T>
      <T x={505} y={1363} fontSize={26.5} fontWeight="bold" textAnchor="middle" dominantBaseline="central" fill={NAVY}>Samy prophage</T>
      <T x={505} y={1395} fontSize={25.5} textAnchor="middle" dominantBaseline="central" fill={NAVY}>66.52 % GC</T>
      <T x={505} y={1428} fontSize={25.5} textAnchor="middle" dominantBaseline="central" fill={NAVY}>61.07 kb</T>
      <rect x={641} y={1355} width={163} height={77} rx={12} fill="#fff" stroke="#d0d0d0" strokeWidth={2} />
      {legendB.map((l, i) => (
        <g key={'lb' + i}>
          <rect x={652} y={1363 + i * 22.5} width={15} height={16} fill={geneFill[l.cat]} />
          <T x={672} y={1371 + i * 22.5} fontSize={19} dominantBaseline="central">{l.label}</T>
        </g>
      ))}

      {/* Panel C */}
      <T x={8} y={1497} fontSize={34} fontWeight="bold" fill="#000">C</T>
      <T x={154} y={1618} fontSize={24} fontWeight="bold" dominantBaseline="central" fill="#000">PhiC31</T>
      <T x={46} y={1658} fontSize={24} fontWeight="bold" dominantBaseline="central" fill="#000">Samy</T>
      <T x={793} y={1591} fontSize={17}>Identity</T>
      <rect x={800} y={1597} width={15} height={90} fill="url(#idgrad)" />
      <T x={818} y={1606} fontSize={17}>100%</T>
      <T x={818} y={1690} fontSize={17}>64%</T>
      <T x={808} y={1740} fontSize={22.5} textAnchor="middle" fill="#000">10 kb</T>
      <rect x={25} y={1858} width={832} height={199} rx={28} fill="none" stroke="#8a8a8a" strokeWidth={1.5} />
      {legendCols.map(([col, sx, tx], ci) =>
        col.map((cat, ri) =>
          cat ? (
            <g key={`lg${ci}-${ri}`}>
              <rect x={sx} y={rowY(ri) - 13.5} width={26} height={27} fill={geneFill[cat]} stroke="#333" strokeWidth={1.2} />
              <T x={tx} y={rowY(ri)} fontSize={21.2} dominantBaseline="central">{legendNames[cat]}</T>
            </g>
          ) : null,
        ),
      )}
    </svg>
  );
};

export default function App() {
  return (
    <div style={{ position: 'absolute', left: 0, top: 0, width: W, height: 2058, background: '#fff', fontFamily: FONT }}>
      <CompartmentBar />
      <DotPlot />
      <GeneOrderChart />
      <GcChart />
      <PanelBChart />
      <PanelCChart />
      <Overlay />
    </div>
  );
}
